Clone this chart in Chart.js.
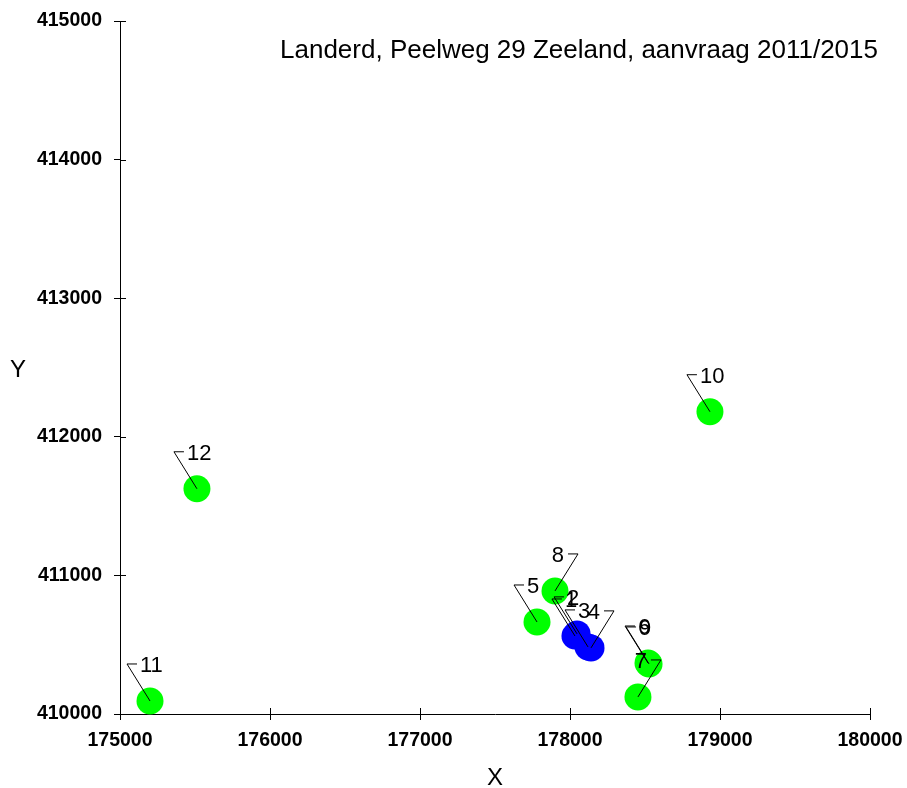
<!DOCTYPE html>
<html>
<head>
<meta charset="utf-8">
<script src="https://cdn.jsdelivr.net/npm/chart.js@4"></script>
<style>
  html, body { margin: 0; padding: 0; background: #fff; }
  #wrap { width: 907px; height: 788px; }
</style>
</head>
<body>
<div id="wrap"><canvas id="plot"></canvas></div>
<script>
// data
const pointIds = ['1', '2', '3', '4', '5', '6', '7', '8', '9', '10', '11', '12'];
const xValues = [178033, 178047, 178120, 178140, 177780, 178520, 178453, 177900, 178527, 178933, 175200, 175513];
const yValues = [410563, 410578, 410484, 410477, 410664, 410368, 410123, 410888, 410361, 412181, 410094, 411625];
const pointGroup = ['B', 'B', 'B', 'B', 'A', 'A', 'A', 'A', 'A', 'A', 'A', 'A'];
const xTicks = [175000, 176000, 177000, 178000, 179000, 180000];
const yTicks = [410000, 411000, 412000, 413000, 414000, 415000];
const chartTitle = 'Landerd, Peelweg 29 Zeeland, aanvraag 2011/2015';

// which way the label leader goes (-1 = up-left, 1 = up-right)
const labelSide = [-1, -1, -1, 1, -1, -1, 1, 1, -1, -1, -1, -1];

const FONT = "'Liberation Sans', Arial, sans-serif";

const groupColor = { A: '#00ff00', B: '#0000ff' };

function pointsOf(group) {
    const out = [];
    for (let i = 0; i < pointIds.length; i++) {
        if (pointGroup[i] === group) out.push({ x: xValues[i], y: yValues[i], id: i });
    }
    return out;
}

//inner half of the crossing tick marks, labels, titles
const decorations = {
    id: 'decorations',
    afterDatasetsDraw(chart) {
        const ctx = chart.ctx;
        const xs = chart.scales.x;
        const ys = chart.scales.y;
        const area = chart.chartArea;
        ctx.save();
        ctx.strokeStyle = '#000';
        ctx.lineWidth = 1;
        ctx.beginPath();
        xTicks.forEach(v => {
            const px = Math.round(xs.getPixelForValue(v)) + 0.5;
            ctx.moveTo(px, area.bottom);
            ctx.lineTo(px, area.bottom - 6);
        });
        yTicks.forEach(v => {
            const py = Math.round(ys.getPixelForValue(v)) + 0.5;
            ctx.moveTo(area.left, py);
            ctx.lineTo(area.left + 6, py);
        });
        ctx.stroke();

        // point labels with leader lines
        ctx.font = '22px ' + FONT;
        ctx.fillStyle = '#000';
        ctx.textBaseline = 'alphabetic';
        for (let i = 0; i < pointIds.length; i++) {
            const px = xs.getPixelForValue(xValues[i]);
            const py = ys.getPixelForValue(yValues[i]);
            const side = labelSide[i];
            const ex = px + 23 * side;
            const ey = py - 37;
            const hx = ex - 10 * side;
            ctx.beginPath();
            ctx.moveTo(px, py);
            ctx.lineTo(ex, ey);
            ctx.lineTo(hx, ey);
            ctx.stroke();
            if (side < 0) {
                ctx.textAlign = 'left';
                ctx.fillText(pointIds[i], hx + 3, ey + 8);
            } else {
                ctx.textAlign = 'right';
                ctx.fillText(pointIds[i], hx - 4, ey + 8);
            }
        }

        // chart title
        ctx.font = '26px ' + FONT;
        ctx.textAlign = 'right';
        ctx.fillText(chartTitle, 878, 58);

        // axis titles
        ctx.font = '24px ' + FONT;
        ctx.textAlign = 'center';
        ctx.fillText('X', (area.left + area.right) / 2, 785);
        ctx.fillText('Y', 18, (area.top + area.bottom) / 2 + 9);
        ctx.restore();
    }
};

const ctx = document.getElementById('plot').getContext('2d');
const plot = new Chart(ctx, {
    type: 'scatter',
    data: {
        datasets: [
            {
                label: 'A',
                data: pointsOf('A'),
                backgroundColor: groupColor.A,
                borderWidth: 0,
                pointRadius: 13.5,
                pointHoverRadius: 13.5
            },
            {
                label: 'B',
                data: pointsOf('B'),
                backgroundColor: groupColor.B,
                borderWidth: 0,
                pointRadius: 13.5,
                pointHoverRadius: 13.5
            }
        ]
    },
    options: {
        responsive: true,
        maintainAspectRatio: false,
        animation: false,
        events: [],
        clip: false,
        layout: {
            padding: { top: 21, right: 37, left: 0, bottom: 0 }
        },
        plugins: {
            legend: { display: false },
            tooltip: { enabled: false },
            title: { display: false }
        },
        scales: {
            x: {
                type: 'linear',
                min: xTicks[0],
                max: xTicks[xTicks.length - 1],
                afterFit: s => { s.height = 74; s.paddingLeft = 0; s.paddingRight = 0; },
                afterBuildTicks: s => { s.ticks = xTicks.map(v => ({ value: v })); },
                border: { display: true, color: '#000', width: 1 },
                grid: { drawOnChartArea: false, drawTicks: true, tickLength: 6, color: '#000' },
                ticks: {
                    maxRotation: 0,
                    padding: 9,
                    color: '#000',
                    font: { family: FONT, size: 19.5, weight: 'bold' },
                    callback: v => String(v)
                }
            },
            y: {
                type: 'linear',
                min: yTicks[0],
                max: yTicks[yTicks.length - 1],
                afterFit: s => { s.width = 120; s.paddingTop = 0; s.paddingBottom = 0; },
                afterBuildTicks: s => { s.ticks = yTicks.map(v => ({ value: v })); },
                border: { display: true, color: '#000', width: 1 },
                grid: { drawOnChartArea: false, drawTicks: true, tickLength: 6, color: '#000' },
                ticks: {
                    padding: 12,
                    color: '#000',
                    font: { family: FONT, size: 19.5, weight: 'bold' },
                    callback: v => String(v)
                }
            }
        }
    },
    plugins: [decorations]
});
</script>
</body>
</html>
